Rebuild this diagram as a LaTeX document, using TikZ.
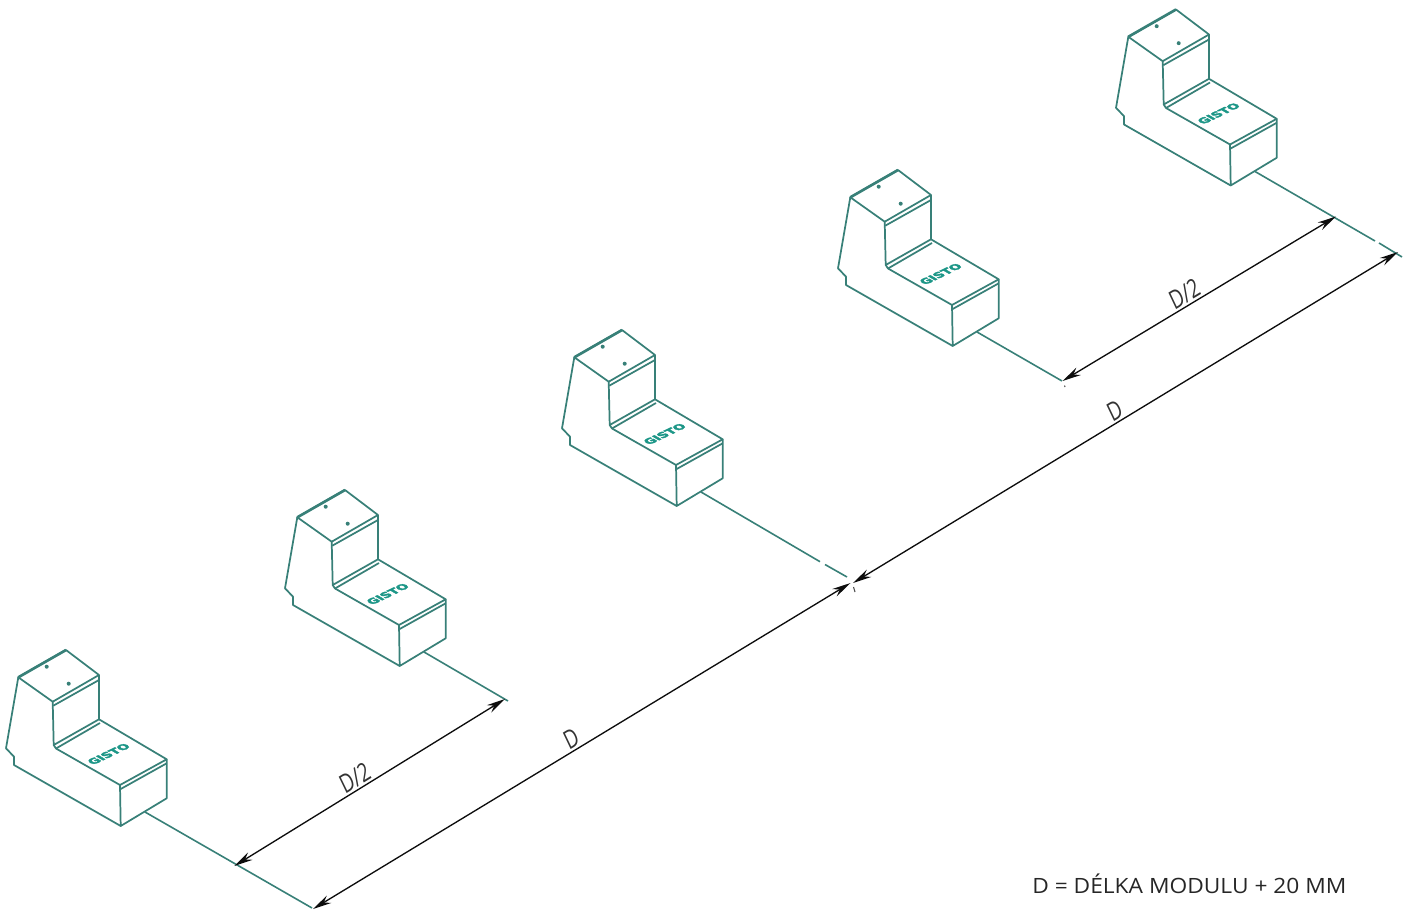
\documentclass[tikz,border=0pt]{standalone}
\usepackage{fontspec}
\usetikzlibrary{arrows.meta}
\newfontfamily\dimfont[FakeStretch=0.76,FakeSlant=0.1]{Open Sans}
\newfontfamily\notefont[FakeStretch=1.08]{Open Sans}
\newfontfamily\logofont[FakeBold=4,FakeStretch=1.05]{DejaVu Sans}
\definecolor{blockLine}{RGB}{56,128,120}
\definecolor{logoFill}{RGB}{28,150,135}
\definecolor{dimLine}{gray}{0.05}

\begin{document}
\begin{tikzpicture}[
	x=0.75pt, y=-0.75pt,
	outline/.style={draw=blockLine, line width=1.3pt, line join=round},
	axisline/.style={draw=blockLine, line width=1.2pt},
	dimension/.style={draw=dimLine, line width=1pt, {Stealth[length=14pt,width=6.4pt]}-{Stealth[length=14pt,width=6.4pt]}},
	dimtext/.style={sloped, above, inner sep=1.5pt, text=black!80, font=\dimfont\fontsize{19}{21}\selectfont},
	tick/.style={draw=black!70, line width=0.8pt},
	block/.pic={
		\draw[outline] (-47.7,27.3) -- (0,0) -- (33,25) -- (-13.3,51.7) -- cycle;
		\draw[outline, line width=2pt] (-47.7,27.3) -- (0,0);
		\draw[outline] (-12.7,55.7) -- (33,30);
		\draw[outline] (-13.3,51.7) -- (-12.3,95) -- (33,69.3) -- (33,25);
		\draw[outline] (-10,98.5) -- (34,73);
		\draw[outline] (-12.3,95) -- (-10,98.5) -- (54,135) -- (100.7,109.3) -- (33,69.3);
		\draw[outline] (54.7,139) -- (100.7,113.3);
		\draw[outline] (54,135) -- (54.7,176) -- (100.7,148.3) -- (100.7,109.3);
		\draw[outline] (-47.7,27.3) -- (-60,98.3) -- (-52,106.7) -- (-52,115) -- (54.7,176);
		\fill[blockLine] (-19.3,16.7) circle (1.5pt) (2.7,33.7) circle (1.5pt);
		\node[cm={.9,.43,-.8,.47,(0,0)}, transform shape, text=logoFill, inner sep=0pt,
			font=\logofont\bfseries\fontsize{8.8}{9}\selectfont] (logo) at (42.7,104) {GISTO};
		\coordinate (-foot) at (79,162);
	},
	]
	\useasboundingbox (0,0) rectangle (1412,912);

	\pic (b1) at (66,650) {block};
	\pic (b2) at (345,490) {block};
	\pic (b3) at (622,330) {block};
	\pic (b4) at (898,170) {block};
	\pic (b5) at (1176,9.5) {block};

	% axis ends
	\coordinate (a1) at (312,908);
	\coordinate (a2) at (508,701);
	\coordinate (a3) at (820,561.7);
	\coordinate (a3b) at (825,564.5);
	\coordinate (a3c) at (847,577);
	\coordinate (a4) at (1062,381);
	\coordinate (a5) at (1375,241);
	\coordinate (a5b) at (1379,243);
	\coordinate (a5c) at (1402,257);

	\draw[axisline] (b1-foot) -- (a1);
	\draw[axisline] (b2-foot) -- (a2);
	\draw[axisline] (b3-foot) -- (a3) (a3b) -- (a3c);
	\draw[axisline] (b4-foot) -- (a4);
	\draw[axisline] (b5-foot) -- (a5) (a5b) -- (a5c);

	% dimension ends
	\coordinate (d1) at (234.3,866);
	\coordinate (d2) at (505,699);
	\coordinate (d3) at (313,909);
	\coordinate (d4) at (850.5,583);
	\coordinate (d5) at (853,583);
	\coordinate (d6) at (1398,252);
	\coordinate (d7) at (1062.5,381);
	\coordinate (d8) at (1336,216.5);

	\draw[dimension] (d1) -- node[dimtext, pos=.465] (half1) {D/2} (d2);
	\draw[dimension] (d3) -- node[dimtext, pos=.49] (full1) {D} (d4);
	\draw[dimension] (d5) -- node[dimtext, pos=.49] (full2) {D} (d6);
	\draw[dimension] (d7) -- node[dimtext, pos=.465] (half2) {D/2} (d8);

	% small marks
	\coordinate (t1) at (853.5,587);
	\coordinate (t2) at (855,592);
	\coordinate (t3) at (1064.5,385.5);
	\coordinate (t4) at (1065,387);
	\draw[tick] (t1) -- (t2);
	\draw[tick] (t3) -- (t4);

	\node[anchor=west, inner sep=0pt, text=black!85, font=\notefont\fontsize{15.8}{18}\selectfont] (note) at (1032,884) {D = DÉLKA MODULU + 20 MM};
\end{tikzpicture}
\end{document}
